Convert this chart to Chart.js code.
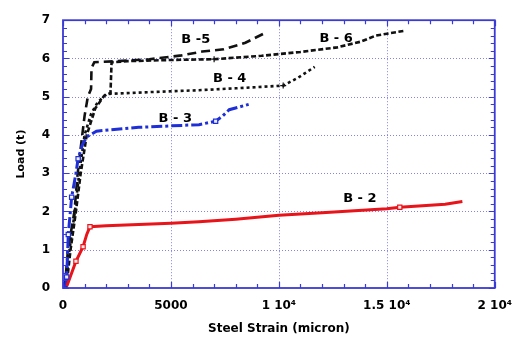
<!DOCTYPE html>
<html>
<head>
<meta charset="utf-8">
<script src="https://cdn.jsdelivr.net/npm/chart.js@4/dist/chart.umd.min.js"></script>
<style>
  html, body { margin: 0; padding: 0; background: #fff; }
  #wrap { width: 523px; height: 343px; }
</style>
</head>
<body>
<div id="wrap"><canvas id="c" width="523" height="343"></canvas></div>
<script>
// Load vs. steel strain for beams B-2 ... B-6
const b2Strain = [180, 600, 930, 1100, 1250, 2000, 5000, 6300, 8000, 10000, 12000, 15000, 15600, 17000, 17700, 18500];
const b2Load   = [0.05, 0.70, 1.08, 1.40, 1.60, 1.63, 1.69, 1.73, 1.80, 1.90, 1.97, 2.07, 2.11, 2.16, 2.19, 2.26];
const b2Marks  = [1, 2, 4, 12];

const b3Strain = [100, 170, 245, 400, 600, 700, 900, 1100, 1550, 3500, 6300, 7070, 7400, 7700, 8600];
const b3Load   = [0.00, 0.29, 1.40, 2.37, 3.00, 3.38, 3.75, 3.95, 4.10, 4.20, 4.27, 4.36, 4.50, 4.66, 4.80];
const b3Marks  = [1, 2, 3, 5, 11];

const b4Strain = [120, 300, 550, 750, 1000, 1300, 1600, 2000, 4000, 6300, 8000, 10200, 10900, 11660];
const b4Load   = [0.00, 1.00, 2.00, 3.00, 4.00, 4.55, 4.85, 5.07, 5.12, 5.17, 5.22, 5.29, 5.50, 5.78];
const b4Marks  = [11];

const b5Strain = [80, 230, 530, 680, 850, 1000, 1150, 1300, 1320, 1450, 2500, 4000, 5500, 6450, 7450, 8450, 9300];
const b5Load   = [0.00, 1.00, 2.00, 3.00, 3.80, 4.50, 5.00, 5.20, 5.75, 5.90, 5.93, 5.98, 6.08, 6.18, 6.24, 6.41, 6.65];
const b5Marks  = [];

const b6Strain = [150, 350, 600, 820, 1100, 1500, 1900, 2200, 2250, 3000, 5000, 7000, 9200, 11000, 12700, 13800, 14500, 15800];
const b6Load   = [0.00, 1.00, 2.00, 3.00, 4.00, 4.70, 5.02, 5.10, 5.90, 5.93, 5.96, 5.98, 6.07, 6.17, 6.29, 6.44, 6.60, 6.72];
const b6Marks  = [11];

const xTickValues = [0, 5000, 10000, 15000, 20000];
const xTickLabels = ['0', '5000', '1 10\u2074', '1.5 10\u2074', '2 10\u2074'];
const yTickValues = [0, 1, 2, 3, 4, 5, 6, 7];

const seriesLabels = [
  { text: 'B -5',  x: 6150,  y: 6.49 },
  { text: 'B - 6', x: 12650, y: 6.51 },
  { text: 'B - 4', x: 7720,  y: 5.47 },
  { text: 'B - 3', x: 5200,  y: 4.43 },
  { text: 'B - 2', x: 13750, y: 2.34 }
];

const toPoints = (xs, ys) => xs.map((x, i) => ({ x: x, y: ys[i] }));
const pick = (xs, ys, idx) => idx.map(i => ({ x: xs[i], y: ys[i] }));

const RED = '#e8141a';
const BLUE = '#1f2fd8';
const BLACK = '#111';
const AXIS = '#3a3ad6';
const GRID = 'rgba(90,90,225,0.75)';

function lineSet(label, xs, ys, color, width, dash) {
  return {
    label: label, data: toPoints(xs, ys), showLine: true,
    borderColor: color, backgroundColor: color, borderWidth: width,
    borderDash: dash, pointRadius: 0, tension: 0, fill: false, order: 2
  };
}
function markSet(xs, ys, idx, color, style) {
  return {
    data: pick(xs, ys, idx), showLine: false, pointStyle: style,
    pointRadius: 3, pointBorderWidth: 1.2, pointBorderColor: color,
    pointBackgroundColor: 'rgba(255,255,255,0.9)', order: 1
  };
}

// Blue frame, inward major/minor ticks and dotted grid
const framePlugin = {
  id: 'frame',
  beforeDatasetsDraw(chart) {
    const { ctx, chartArea: a, scales: { x, y } } = chart;
    ctx.save();
    ctx.strokeStyle = GRID;
    ctx.lineWidth = 1;
    ctx.setLineDash([1, 2]);
    xTickValues.slice(1, -1).forEach(v => {
      const px = Math.round(x.getPixelForValue(v)) + 0.5;
      ctx.beginPath(); ctx.moveTo(px, a.top); ctx.lineTo(px, a.bottom); ctx.stroke();
    });
    yTickValues.slice(1, -1).forEach(v => {
      const py = Math.round(y.getPixelForValue(v)) + 0.5;
      ctx.beginPath(); ctx.moveTo(a.left, py); ctx.lineTo(a.right, py); ctx.stroke();
    });
    ctx.restore();
  },
  afterDatasetsDraw(chart) {
    const { ctx, chartArea: a, scales: { x, y } } = chart;
    ctx.save();
    ctx.strokeStyle = AXIS;
    ctx.lineWidth = 1.2;
    ctx.setLineDash([]);
    for (let v = 0; v <= 20000; v += 1000) {
      const len = v % 5000 === 0 ? 6 : 4;
      const px = Math.round(x.getPixelForValue(v)) + 0.5;
      ctx.beginPath();
      ctx.moveTo(px, a.bottom); ctx.lineTo(px, a.bottom - len);
      ctx.moveTo(px, a.top); ctx.lineTo(px, a.top + len);
      ctx.stroke();
    }
    for (let k = 0; k <= 35; k++) {
      const v = k * 0.2;
      const len = k % 5 === 0 ? 6 : 4;
      const py = Math.round(y.getPixelForValue(v)) + 0.5;
      ctx.beginPath();
      ctx.moveTo(a.left, py); ctx.lineTo(a.left + len, py);
      ctx.moveTo(a.right, py); ctx.lineTo(a.right - len, py);
      ctx.stroke();
    }
    ctx.lineWidth = 1.8;
    ctx.strokeRect(a.left, a.top, a.right - a.left, a.bottom - a.top);

    ctx.fillStyle = '#000';
    ctx.font = 'bold 13px "DejaVu Sans"';
    ctx.textAlign = 'center';
    ctx.textBaseline = 'middle';
    seriesLabels.forEach(l => {
      ctx.fillText(l.text, x.getPixelForValue(l.x), y.getPixelForValue(l.y));
    });
    ctx.restore();
  }
};

const tickFont = { family: 'DejaVu Sans', weight: 'bold', size: 12 };

new Chart(document.getElementById('c'), {
  type: 'scatter',
  data: {
    datasets: [
      lineSet('B-2', b2Strain, b2Load, RED, 3, []),
      lineSet('B-3', b3Strain, b3Load, BLUE, 3, [11, 3, 3, 3]),
      lineSet('B-4', b4Strain, b4Load, BLACK, 2.6, [3, 3]),
      lineSet('B-5', b5Strain, b5Load, BLACK, 2.6, [9, 5]),
      lineSet('B-6', b6Strain, b6Load, BLACK, 2.6, [5, 2.5]),
      markSet(b2Strain, b2Load, b2Marks, RED, 'rect'),
      markSet(b3Strain, b3Load, b3Marks, BLUE, 'rect'),
      markSet(b4Strain, b4Load, b4Marks, BLACK, 'cross'),
      markSet(b6Strain, b6Load, b6Marks, BLACK, 'cross')
    ]
  },
  options: {
    responsive: false,
    animation: false,
    devicePixelRatio: 1,
    layout: { padding: { top: 13, right: 25, left: 0, bottom: 0 } },
    plugins: { legend: { display: false }, tooltip: { enabled: false } },
    scales: {
      x: {
        type: 'linear', min: 0, max: 20000,
        afterBuildTicks: s => { s.ticks = xTickValues.map(v => ({ value: v })); },
        afterFit: s => { s.height = 55; },
        grid: { display: false, drawTicks: false },
        border: { display: false },
        ticks: {
          padding: 11, color: '#000', font: tickFont, maxRotation: 0,
          callback: v => xTickLabels[xTickValues.indexOf(v)]
        },
        title: {
          display: true, text: 'Steel Strain (micron)', color: '#000',
          font: { family: 'DejaVu Sans', weight: 'bold', size: 12 },
          padding: { top: 0, bottom: 7 }
        }
      },
      y: {
        type: 'linear', min: 0, max: 7,
        afterBuildTicks: s => { s.ticks = yTickValues.map(v => ({ value: v })); },
        afterFit: s => { s.width = 63; },
        grid: { display: false, drawTicks: false },
        border: { display: false },
        ticks: { padding: 13, color: '#000', font: tickFont },
        title: {
          display: true, text: 'Load (t)', color: '#000',
          font: { family: 'DejaVu Sans', weight: 'bold', size: 11 },
          padding: { top: 15, bottom: 0 }
        }
      }
    }
  },
  plugins: [framePlugin]
});
</script>
</body>
</html>
